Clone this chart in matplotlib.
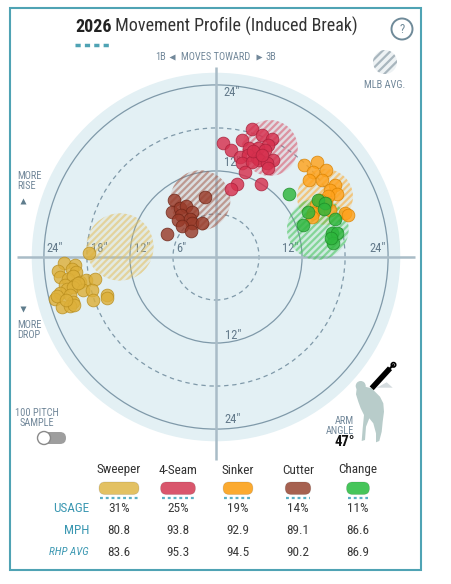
import matplotlib
matplotlib.use('Agg')
import matplotlib.pyplot as plt
from matplotlib import font_manager
from matplotlib.colors import to_rgba
from matplotlib.patches import Circle, FancyBboxPatch, Rectangle, Polygon

names = {f.name for f in font_manager.fontManager.ttflist}
FONT = 'DejaVu Sans'
for cand in ['Roboto Condensed', 'Liberation Sans Narrow', 'Roboto']:
    if cand in names:
        FONT = cand
        break
plt.rcParams['font.family'] = [FONT, 'DejaVu Sans']
plt.rcParams['hatch.linewidth'] = 1.6

# ---- data (inches of break; x toward 3B positive, y = induced vertical break)
pitches = ['Sweeper', '4-Seam', 'Sinker', 'Cutter', 'Change']
usage = [31, 25, 19, 14, 11]
mph = [80.8, 93.8, 92.9, 89.1, 86.6]
rhp_avg = [83.6, 95.3, 94.5, 90.2, 86.9]

sweeper_x = [-17.7, -21.2, -19.7, -20.1, -19.5, -22.0, -21.8, -20.6, -19.9, -19.0, -18.1,
             -16.9, -21.1, -19.7, -20.8, -19.9, -18.5, -17.3, -21.8, -20.4, -15.2, -15.2,
             -22.5, -17.2, -19.9, -21.5, -20.4, -19.8, -22.2, -20.9, -19.2]
sweeper_y = [0.6, -0.8, -1.1, -1.7, -2.1, -2.0, -2.8, -3.1, -2.7, -3.5, -3.2,
             -3.1, -3.9, -3.9, -4.5, -4.2, -4.6, -4.6, -5.0, -5.3, -5.3, -5.7,
             -5.9, -6.0, -6.3, -7.0, -6.8, -6.7, -5.4, -6.0, -3.6]
fourseam_x = [5.0, 6.4, 7.8, 1.0, 3.6, 2.1, 7.3, 4.6, 5.9, 6.8, 3.3, 4.5, 5.7, 6.0, 7.9,
              3.6, 5.0, 7.1, 7.3, 4.0, 2.9, 2.1, 6.3, 5.2, 6.4]
fourseam_y = [17.9, 17.0, 16.5, 15.9, 16.3, 14.9, 15.6, 15.2, 15.2, 14.9, 13.9, 14.2, 13.8,
              13.5, 13.5, 13.1, 13.2, 13.1, 12.4, 11.9, 10.2, 9.5, 10.2, 14.8, 14.2]
sinker_x = [12.3, 14.1, 13.5, 15.3, 13.0, 14.8, 16.6, 15.9, 16.9, 15.6, 13.9, 14.8, 15.9,
            13.5, 13.4, 18.0, 18.4, 14.5, 15.3]
sinker_y = [12.8, 13.2, 11.9, 12.1, 10.7, 10.7, 10.0, 9.3, 8.8, 8.5, 7.3, 6.8, 6.6,
            6.1, 5.6, 6.1, 5.9, 7.9, 7.5]
cutter_x = [-1.5, -5.9, -6.1, -5.0, -4.2, -3.3, -4.9, -5.3, -3.6, -3.3, -2.0, -4.7, -3.5, -6.8]
cutter_y = [8.4, 7.9, 6.3, 6.8, 7.1, 6.3, 5.9, 5.2, 5.3, 4.7, 4.7, 4.3, 3.6, 3.2]
change_x = [10.2, 14.2, 15.2, 15.1, 12.8, 16.6, 12.1, 16.2, 16.9, 16.3, 16.0]
change_y = [8.8, 7.9, 7.5, 6.7, 6.3, 5.3, 4.5, 3.3, 3.3, 2.0, 2.6]

# MLB average (center x, center y, spread radius) per pitch
avg_x = [-13.4, 7.5, 15.2, -2.2, 14.2]
avg_y = [1.4, 15.2, 8.4, 7.9, 3.9]
avg_r = [4.7, 3.9, 3.9, 4.2, 4.3]

dot_fill = ['#DDB03A', '#D6304E', '#FFA21C', '#993B29', '#2DB63C']
dot_edge = ['#B98E1E', '#A8203A', '#D98200', '#6E2517', '#1C8B28']
pill_col = ['#E3C163', '#D9566C', '#FBAA30', '#A66150', '#46C55A']

ring_col = '#7F99A9'
label_col = '#62798A'
teal = '#4FA3B4'

PX = 7.17        # pixels per inch of break
cx, cy = 216, 257
L = 30

fig = plt.figure(figsize=(4.52, 5.84), dpi=100)
ov = fig.add_axes([0, 0, 1, 1])
ov.set_xlim(0, 452)
ov.set_ylim(584, 0)
ov.axis('off')

ax = fig.add_axes([(cx - L * PX) / 452, (584 - cy - L * PX) / 584, 2 * L * PX / 452, 2 * L * PX / 584])
ax.set_xlim(-L, L)
ax.set_ylim(-L, L)
ax.axis('off')

# frame
ov.add_patch(Rectangle((10, 8), 411, 562, fill=False, ec=teal, lw=1.5))

# disk and rings
ax.add_patch(Circle((0, 0), 25.7, fc='#E3F0F4', ec='none', zorder=0))
for r in [12, 24]:
    ax.add_patch(Circle((0, 0), r, fill=False, ec=ring_col, lw=0.9, zorder=1))
for r in [6, 18]:
    ax.add_patch(Circle((0, 0), r, fill=False, ec=ring_col, lw=0.9, ls=(0, (3.5, 3)), zorder=1))
ax.plot([0, 0], [-28.3, 26.5], color='#A9BCC7', lw=1.8, zorder=1, solid_capstyle='butt')
ax.plot([-27.8, 27.8], [0, 0], color='#A9BCC7', lw=1.8, zorder=1, solid_capstyle='butt')

ring_labels = [(-22.5, 1.2, '24"'), (-16.3, 1.2, '18"'), (-10.3, 1.2, '12"'), (-4.9, 1.2, '6"'),
               (10.3, 1.2, '12"'), (22.5, 1.2, '24"'), (1.1, 22.9, '24"'), (1.1, 13.2, '12"'),
               (1.2, -10.9, '12"'), (1.2, -22.7, '24"')]
for x, y, t in ring_labels:
    ha = 'center' if y == 1.2 else 'left'
    ax.text(x, y, t, ha=ha, va='center', fontsize=9, color=label_col, zorder=2)

# MLB average hatched circles
for x, y, r, c in zip(avg_x, avg_y, avg_r, pill_col):
    ax.add_patch(Circle((x, y), r, fc=to_rgba(c, 0.12), ec=to_rgba(c, 0.55), lw=0,
                        hatch='/////', zorder=3))

# pitches
series = [(sweeper_x, sweeper_y), (fourseam_x, fourseam_y), (sinker_x, sinker_y),
          (cutter_x, cutter_y), (change_x, change_y)]
order = [0, 3, 1, 2, 4]
for i in order:
    xs, ys = series[i]
    ax.scatter(xs, ys, s=84, c=dot_fill[i], edgecolors=dot_edge[i], linewidths=0.6,
               alpha=0.82, zorder=4 + order.index(i))

# title
t1 = ov.text(75, 36, '2026', fontsize=13, fontweight='bold', color='#222222', va='bottom')
ov.annotate(' Movement Profile (Induced Break)', xy=(1, 0), xycoords=t1, va='bottom',
            fontsize=13, color='#333333')
ov.plot([75, 111], [45, 45], color=teal, lw=2.5, ls=(0, (1.5, 1.2)), solid_capstyle='butt')
ov.add_patch(Circle((402, 29), 10.5, fill=False, ec='#6F8A99', lw=1.4))
ov.text(402, 29.5, '?', ha='center', va='center', fontsize=9, color='#6F8A99')

small = dict(fontsize=7.5, color='#72889A')
ov.text(161, 57, '1B', ha='center', va='center', **small)
ov.text(216, 57, 'MOVES TOWARD', ha='center', va='center', **small)
ov.text(271, 57, '3B', ha='center', va='center', **small)
ov.plot([172], [57], marker='<', ms=5, color='#72889A', mec='none')
ov.plot([259], [57], marker='>', ms=5, color='#72889A', mec='none')

ov.add_patch(Circle((385, 62), 12, fc='#EEF2F4', ec='#A9B6BE', lw=0, hatch='////'))
ov.text(385, 85, 'MLB AVG.', ha='center', va='center', **small)

ov.text(17, 181, 'MORE\nRISE', ha='left', va='center', linespacing=1.1, **small)
ov.plot([23], [201], marker='^', ms=5, color='#5F7C8C', mec='none')
ov.plot([23], [309], marker='v', ms=5, color='#5F7C8C', mec='none')
ov.text(17, 330, 'MORE\nDROP', ha='left', va='center', linespacing=1.1, **small)

ov.text(37, 418, '100 PITCH\nSAMPLE', ha='center', va='center', linespacing=1.1, **small)
ov.add_patch(FancyBboxPatch((38, 432), 28, 12, boxstyle='round,pad=0,rounding_size=6',
                            fc='#9E9E9E', ec='none'))
ov.add_patch(Circle((44, 438), 6.5, fc='white', ec='#8A8A8A', lw=1))

# arm angle
ov.text(354, 426, 'ARM\nANGLE', ha='right', va='center', linespacing=1.0, **small)
ov.text(355, 442, '47°', ha='right', va='center', fontsize=10.5, fontweight='bold', color='#111111')
body = [(356.7, 388.3), (361.7, 384.3), (365, 386.7), (371.7, 388.3), (375, 391.7), (380, 396.7),
        (383.3, 403.3), (384, 411.7), (382.7, 421.7), (381.7, 431.7), (379.3, 441), (376, 442.3),
        (376, 433.3), (373.3, 423.3), (369.3, 418.3), (366, 426.7), (365, 440), (361.7, 441),
        (362.7, 428.3), (364, 415), (360.7, 408.3), (358.3, 401.7), (356, 394.3)]
ov.add_patch(Polygon(body, closed=True, fc='#B8CCCA', ec='none'))
ov.add_patch(Circle((360.7, 386), 5, fc='#B8CCCA', ec='none'))
ov.add_patch(Polygon([(376.7, 387.7), (392.7, 387.7), (386.7, 382.3)], closed=True,
                     fc='#D5DCDF', ec='none'))
ov.plot([371.7, 390], [388.3, 368.3], color='black', lw=4, solid_capstyle='butt')
ov.plot([390, 393.3], [368.3, 365], color='black', lw=1.5)
ov.add_patch(Circle((393.5, 364.8), 2.2, fc='white', ec='black', lw=1.2))

# table
col_x = [119, 178, 238, 298, 358]
for i, name in enumerate(pitches):
    x = col_x[i]
    ov.text(x, 470, name, ha='center', va='center', fontsize=9.5, color='#333333')
    w = 13.6 + 0.85 * usage[i]
    ov.add_patch(FancyBboxPatch((x - w / 2, 482), w, 12.5, boxstyle='round,pad=0,rounding_size=6',
                                fc=pill_col[i], ec=to_rgba('#000000', 0.12), lw=0.6))
    ov.plot([x - w / 2 + 1, x + w / 2 - 1], [498, 498], color='#5AAFC4', lw=1.6,
            ls=(0, (1.3, 1.3)), solid_capstyle='butt')
    ov.text(x, 508, f'{usage[i]}%', ha='center', va='center', fontsize=9.5, color='#3A3A3A')
    ov.text(x, 530, f'{mph[i]:.1f}', ha='center', va='center', fontsize=9.5, color='#3A3A3A')
    ov.text(x, 552, f'{rhp_avg[i]:.1f}', ha='center', va='center', fontsize=9.5, color='#3A3A3A')

row_col = '#3C98B2'
ov.text(89, 508, 'USAGE', ha='right', va='center', fontsize=9.5, color=row_col)
ov.text(89, 530, 'MPH', ha='right', va='center', fontsize=9.5, color=row_col)
ov.text(89, 552, 'RHP AVG', ha='right', va='center', fontsize=8, style='italic', color=row_col)

fig.savefig('out.png', dpi=100)
